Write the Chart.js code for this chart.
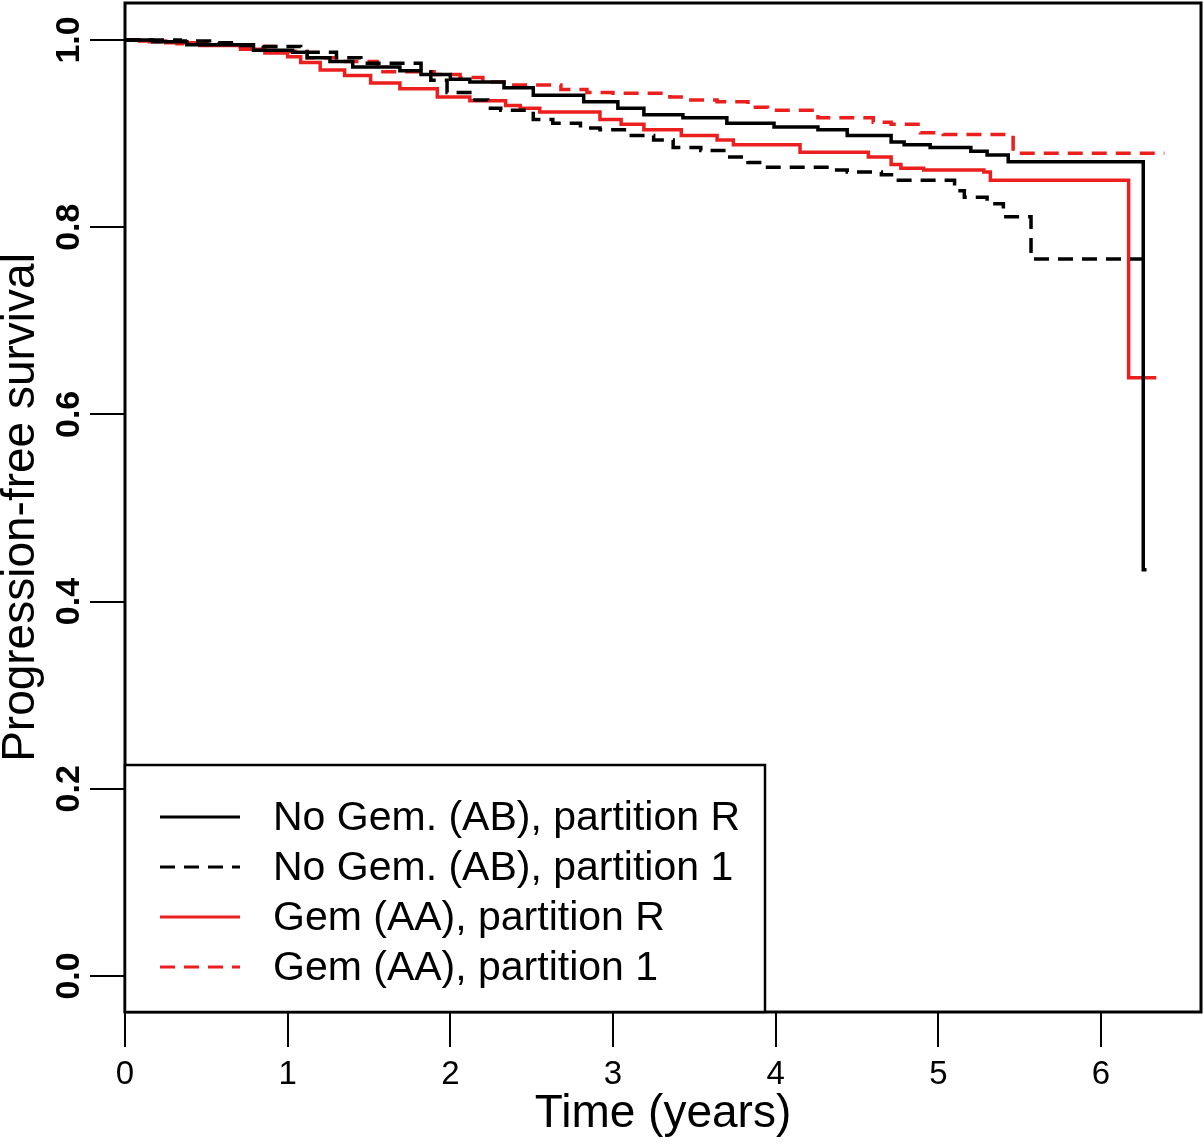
<!DOCTYPE html>
<html lang="en">
<head>
    <meta charset="UTF-8">
    <title>Progression-free survival</title>
    <style>
        html, body { margin: 0; padding: 0; background: #fff; }
        #wrap { width: 1204px; height: 1145px; }
    </style>
</head>
<body>
    <div id="wrap"><canvas id="kmChart" width="1204" height="1145"></canvas></div>
    <script src="https://cdn.jsdelivr.net/npm/chart.js"></script>
    <script>
        // step times (years) and survival after each step
        const noGemRTimes = [0, 0.17, 0.38, 0.79, 1.03, 1.12, 1.26, 1.40, 1.69, 1.82, 2.00, 2.12, 2.33, 2.51, 2.82, 3.03, 3.19, 3.43, 3.70, 3.99, 4.26, 4.44, 4.71, 4.79, 4.95, 5.20, 5.30, 5.43, 6.26, 6.28];
        const noGemRSurv = [1.0, 0.998, 0.995, 0.989, 0.987, 0.981, 0.977, 0.971, 0.967, 0.963, 0.958, 0.955, 0.949, 0.941, 0.934, 0.927, 0.920, 0.917, 0.911, 0.907, 0.904, 0.898, 0.891, 0.888, 0.885, 0.881, 0.877, 0.870, 0.434, 0.434];

        const noGem1Times = [0, 0.34, 0.52, 0.68, 0.85, 1.08, 1.30, 1.45, 1.82, 1.88, 1.98, 2.12, 2.23, 2.31, 2.51, 2.63, 2.80, 2.92, 3.09, 3.25, 3.37, 3.54, 3.70, 3.83, 3.95, 4.34, 4.44, 4.65, 4.74, 5.10, 5.16, 5.30, 5.40, 5.57, 6.29];
        const noGem1Surv = [1.0, 0.999, 0.997, 0.994, 0.993, 0.987, 0.981, 0.975, 0.968, 0.957, 0.944, 0.936, 0.927, 0.925, 0.915, 0.911, 0.906, 0.904, 0.898, 0.893, 0.885, 0.882, 0.875, 0.869, 0.864, 0.861, 0.859, 0.856, 0.850, 0.839, 0.832, 0.825, 0.811, 0.766, 0.766];

        const gemRTimes = [0, 0.09, 0.25, 0.46, 0.71, 0.86, 1.00, 1.08, 1.20, 1.35, 1.51, 1.69, 1.92, 2.12, 2.34, 2.43, 2.55, 2.92, 3.05, 3.19, 3.42, 3.64, 3.74, 4.15, 4.57, 4.71, 4.77, 4.91, 5.28, 5.32, 6.17, 6.34];
        const gemRSurv = [1.0, 0.999, 0.997, 0.994, 0.990, 0.986, 0.982, 0.976, 0.968, 0.962, 0.954, 0.948, 0.939, 0.935, 0.930, 0.927, 0.923, 0.915, 0.910, 0.904, 0.898, 0.893, 0.888, 0.880, 0.875, 0.867, 0.863, 0.861, 0.859, 0.850, 0.639, 0.639];

        const gem1Times = [0, 0.15, 0.32, 0.65, 0.95, 1.12, 1.30, 1.55, 1.90, 2.06, 2.20, 2.35, 2.68, 2.84, 3.00, 3.35, 3.46, 3.64, 3.83, 3.95, 4.26, 4.60, 4.71, 4.89, 5.03, 5.46, 6.39];
        const gem1Surv = [1.0, 0.998, 0.996, 0.993, 0.988, 0.981, 0.977, 0.966, 0.963, 0.960, 0.955, 0.952, 0.947, 0.944, 0.943, 0.939, 0.936, 0.934, 0.928, 0.925, 0.917, 0.912, 0.910, 0.901, 0.899, 0.879, 0.879];

        const seriesLabels = ['No Gem. (AB), partition R', 'No Gem. (AB), partition 1', 'Gem (AA), partition R', 'Gem (AA), partition 1'];
        const xTickValues = [0, 1, 2, 3, 4, 5, 6];
        const yTickValues = [0, 0.2, 0.4, 0.6, 0.8, 1.0];

        const RED = '#ec1f1f';
        const FONT = '"Liberation Sans", Arial, sans-serif';

        function toPoints(times, surv) {
            return times.map((t, i) => ({ x: t, y: surv[i] }));
        }

        function kmSet(label, times, surv, color, dashed) {
            return {
                label: label,
                data: toPoints(times, surv),
                borderColor: color,
                borderWidth: 3.5,
                borderDash: dashed ? [15, 9] : [],
                stepped: 'before',
                pointRadius: 0,
                fill: false,
            };
        }

        // box, y tick labels and legend
        const decor = {
            id: 'decor',
            afterDraw(chart) {
                const ctx = chart.ctx;
                const a = chart.chartArea;
                const ys = chart.scales.y;
                ctx.save();
                ctx.strokeStyle = '#000';
                ctx.lineWidth = 3;
                ctx.strokeRect(a.left, a.top, a.right - a.left, a.bottom - a.top);

                ctx.fillStyle = '#000';
                ctx.font = 'bold 34px ' + FONT;
                ctx.textAlign = 'center';
                ctx.textBaseline = 'middle';
                yTickValues.forEach(v => {
                    const py = ys.getPixelForValue(v);
                    ctx.save();
                    ctx.translate(70, py);
                    ctx.rotate(-Math.PI / 2);
                    ctx.fillText(v.toFixed(1), 0, 0);
                    ctx.restore();
                });

                // legend box
                const lx = a.left, ly = 765, lw = 765 - a.left, lh = a.bottom - 765;
                ctx.fillStyle = '#fff';
                ctx.fillRect(lx, ly, lw, lh);
                ctx.lineWidth = 2.5;
                ctx.strokeRect(lx, ly, lw, lh);
                ctx.font = '41px ' + FONT;
                ctx.textAlign = 'left';
                chart.data.datasets.forEach((ds, i) => {
                    const ry = 817 + i * 50;
                    ctx.strokeStyle = ds.borderColor;
                    ctx.lineWidth = 3;
                    ctx.setLineDash(ds.borderDash);
                    ctx.beginPath();
                    ctx.moveTo(160, ry);
                    ctx.lineTo(240, ry);
                    ctx.stroke();
                    ctx.setLineDash([]);
                    ctx.fillStyle = '#000';
                    ctx.fillText(ds.label, 273, ry + 2);
                });
                ctx.restore();
            }
        };

        new Chart(document.getElementById('kmChart'), {
            type: 'line',
            data: {
                datasets: [
                    kmSet(seriesLabels[0], noGemRTimes, noGemRSurv, '#000', false),
                    kmSet(seriesLabels[1], noGem1Times, noGem1Surv, '#000', true),
                    kmSet(seriesLabels[2], gemRTimes, gemRSurv, RED, false),
                    kmSet(seriesLabels[3], gem1Times, gem1Surv, RED, true),
                ],
            },
            options: {
                responsive: false,
                animation: false,
                layout: { padding: { top: 3, right: 3, left: 0, bottom: 0 } },
                plugins: { legend: { display: false }, tooltip: { enabled: false } },
                scales: {
                    x: {
                        type: 'linear',
                        min: 0,
                        max: 6.615,
                        afterBuildTicks: s => { s.ticks = xTickValues.map(v => ({ value: v })); },
                        afterFit: s => { s.height = 133; },
                        grid: { display: true, drawOnChartArea: false, drawTicks: true, tickLength: 35, color: '#000', lineWidth: 2 },
                        border: { display: false },
                        ticks: { color: '#000', font: { family: FONT, size: 33 }, padding: 8, maxRotation: 0 },
                        title: { display: true, text: 'Time (years)', color: '#000', font: { family: FONT, size: 46, lineHeight: 1 }, padding: { top: 0, bottom: 8 } },
                    },
                    y: {
                        type: 'linear',
                        min: -0.0385,
                        max: 1.0395,
                        afterBuildTicks: s => { s.ticks = yTickValues.map(v => ({ value: v })); },
                        afterFit: s => { s.width = 125; },
                        grid: { display: true, drawOnChartArea: false, drawTicks: true, tickLength: 35, color: '#000', lineWidth: 2 },
                        border: { display: false },
                        ticks: { display: false },
                        title: { display: true, text: 'Progression-free survival', color: '#000', font: { family: FONT, size: 46, lineHeight: 1 }, padding: { top: -2, bottom: 0 } },
                    },
                },
            },
            plugins: [decor],
        });
    </script>
</body>
</html>
